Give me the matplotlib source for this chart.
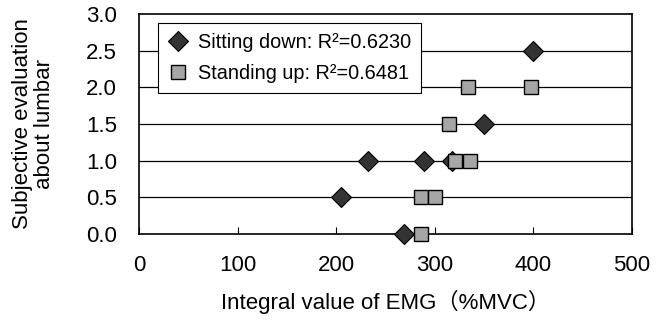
import matplotlib
matplotlib.use('Agg')
import matplotlib.pyplot as plt

plt.rcParams['font.family'] = ['Liberation Sans', 'Noto Sans CJK JP', 'DejaVu Sans']

# values
sit_emg = [400, 350, 232, 289, 317, 205, 269]
sit_eval = [2.5, 1.5, 1.0, 1.0, 1.0, 0.5, 0.0]
stand_emg = [334, 398, 314, 321, 336, 286, 300, 286]
stand_eval = [2.0, 2.0, 1.5, 1.0, 1.0, 0.5, 0.5, 0.0]

sit_label = 'Sitting down: R²=0.6230'
stand_label = 'Standing up: R²=0.6481'

fig = plt.figure(figsize=(6.67, 3.21), dpi=100)
ax = fig.add_axes([0.2084, 0.271, 0.7391, 0.6854])

for y in [0.5, 1.0, 1.5, 2.0, 2.5]:
    ax.axhline(y, color='black', lw=0.9, zorder=1)

ax.plot(sit_emg, sit_eval, 'D', ms=10, mfc='#333333', mec='black', mew=0.8,
        ls='none', label=sit_label, zorder=3, clip_on=False)
ax.plot(stand_emg, stand_eval, 's', ms=10.5, mfc='#a6a6a6', mec='black', mew=1.0,
        ls='none', label=stand_label, zorder=4, clip_on=False)

ax.set_xlim(0, 500)
ax.set_ylim(0, 3.0)
ax.set_xticks([0, 100, 200, 300, 400, 500])
ax.set_yticks([0, 0.5, 1.0, 1.5, 2.0, 2.5, 3.0])
ax.set_yticklabels(['0.0', '0.5', '1.0', '1.5', '2.0', '2.5', '3.0'])
ax.tick_params(axis='x', direction='in', length=5, width=0.8, pad=15, labelsize=16)
ax.tick_params(axis='y', length=0, pad=16, labelsize=16)
for s in ax.spines.values():
    s.set_linewidth(1.2)

ax.set_xlabel('Integral value of EMG（%MVC）', fontsize=16, labelpad=10)
ax.set_ylabel('Subjective evaluation\nabout lumbar', fontsize=16, labelpad=22,
              linespacing=1.1)

leg = ax.legend(loc='upper left', bbox_to_anchor=(0.0385, 0.959), borderaxespad=0,
                fontsize=14.3, fancybox=False, framealpha=1, edgecolor='black',
                handletextpad=0.5, handlelength=1.0, labelspacing=0.6,
                borderpad=0.5)
leg.get_frame().set_linewidth(0.8)

fig.savefig('out.png', dpi=100)
